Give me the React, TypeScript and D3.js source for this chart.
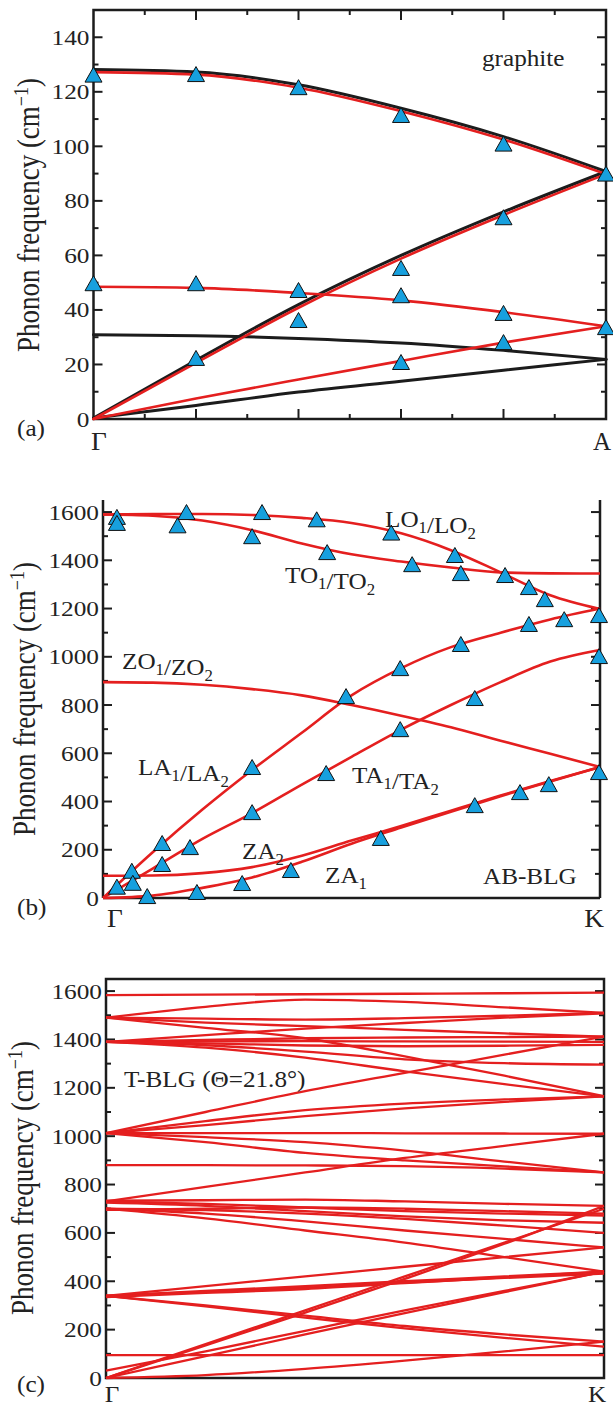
import React from 'react';
import * as d3 from 'd3';

const W = 613;
const H = 1409;

// ---------- panel (a) graphite, Γ -> A ----------
const aX = [0, 0.2, 0.4, 0.6, 0.8, 1.0];
const aBlackTop = [127.8, 126.9, 122.2, 113.6, 103.2, 90.4];
const aRedTop = [127.2, 126.3, 121.5, 112.9, 102.5, 89.8];
const aBlackLA = [0, 21.2, 41.6, 59.6, 75.6, 90.4];
const aRedLA = [0, 20.6, 40.8, 58.8, 74.8, 89.8];
const aRedLO = [48.5, 48.1, 46.2, 43.5, 39.2, 34];
const aBlackLO = [30.5, 30.2, 29.2, 27.5, 24.8, 21.5];
const aRedTA = [0, 7.5, 14.5, 21.3, 28, 34];
const aBlackTA = [0, 4.6, 9.5, 13.5, 17.5, 21.5];
const aPoints = [
  [0, 126.3], [0.2, 126.5], [0.4, 121.7], [0.6, 111.5], [0.8, 101], [1, 90],
  [0.2, 22.4], [0.4, 36.3], [0.6, 55.4], [0.8, 74],
  [0, 49.8], [0.2, 49.8], [0.4, 47.3], [0.6, 45.4], [0.8, 38.9], [1, 33.7],
  [0.6, 20.9], [0.8, 28.2],
];

// ---------- panel (b) AB-BLG, Γ -> K ----------
const bX = [0, 0.1, 0.2, 0.3, 0.4, 0.5, 0.6, 0.7, 0.8, 0.9, 1.0];
const bLO = [1590, 1592, 1592, 1588, 1576, 1555, 1512, 1442, 1350, 1255, 1198];
const bTO = [1590, 1585, 1565, 1525, 1470, 1425, 1395, 1370, 1350, 1346, 1345];
const bZO = [895, 893, 884, 866, 840, 800, 756, 708, 652, 598, 543];
const bLA = [0, 190, 367, 531, 685, 840, 953, 1040, 1100, 1155, 1200];
const bTA = [0, 122, 245, 352, 470, 585, 698, 800, 895, 980, 1028];
const bZA2 = [92, 93, 103, 128, 175, 238, 298, 362, 425, 485, 543];
const bZA1 = [0, 10, 42, 85, 150, 225, 292, 358, 422, 483, 543];
const bPoints = [
  [0.028, 1580], [0.028, 1555], [0.15, 1545], [0.168, 1600], [0.3, 1500], [0.32, 1600],
  [0.43, 1570], [0.451, 1434], [0.58, 1515], [0.622, 1384], [0.708, 1422], [0.72, 1347],
  [0.809, 1339], [0.857, 1289], [0.889, 1239], [0.928, 1156], [0.857, 1136], [0.998, 1173],
  [0.72, 1053], [0.598, 953], [0.489, 837], [0.998, 1003], [0.748, 829], [0.598, 700],
  [0.449, 518], [0.3, 543], [0.3, 356], [0.119, 228], [0.119, 141], [0.175, 211],
  [0.028, 47], [0.058, 113], [0.06, 63], [0.089, 8], [0.189, 25], [0.28, 62],
  [0.378, 116], [0.559, 249], [0.748, 385], [0.839, 439], [0.897, 472], [0.998, 522],
];

// ---------- panel (c) T-BLG 21.8 deg, Γ -> K ----------
const cX = [0, 0.2, 0.4, 0.6, 0.8, 1.0];
const tblgBands = [
  [1583, 1585, 1587, 1589, 1591, 1594],
  [1490, 1535, 1565, 1555, 1533, 1510],
  [1490, 1486, 1482, 1488, 1498, 1510],
  [1490, 1470, 1455, 1440, 1425, 1412],
  [1490, 1448, 1405, 1330, 1250, 1165],
  [1390, 1418, 1445, 1468, 1490, 1508],
  [1390, 1398, 1405, 1408, 1410, 1412],
  [1390, 1392, 1393, 1392, 1391, 1390],
  [1390, 1376, 1350, 1318, 1302, 1296],
  [1390, 1366, 1325, 1268, 1215, 1165],
  [1390, 1384, 1375, 1372, 1374, 1378],
  [1013, 1100, 1186, 1262, 1337, 1412],
  [1013, 1062, 1108, 1135, 1152, 1165],
  [1013, 1046, 1083, 1115, 1142, 1165],
  [1013, 1013, 1013, 1012, 1011, 1010],
  [1013, 996, 975, 940, 895, 850],
  [1013, 975, 931, 900, 875, 850],
  [880, 880, 879, 876, 866, 850],
  [730, 790, 850, 910, 960, 1010],
  [733, 735, 738, 730, 720, 712],
  [730, 720, 705, 690, 680, 672],
  [725, 712, 690, 668, 652, 642],
  [700, 694, 680, 658, 630, 600],
  [700, 680, 648, 610, 575, 540],
  [695, 700, 705, 700, 690, 680],
  [700, 660, 610, 560, 500, 440],
  [340, 360, 380, 400, 420, 440],
  [340, 356, 374, 394, 414, 432],
  [340, 380, 420, 460, 500, 540],
  [340, 300, 258, 215, 180, 150],
  [340, 296, 250, 205, 166, 130],
  [335, 352, 368, 392, 416, 440],
  [95, 95, 95, 95, 95, 95],
  [0, 140, 280, 420, 560, 700],
  [0, 135, 270, 410, 555, 712],
  [0, 90, 180, 268, 355, 440],
  [30, 110, 195, 280, 360, 440],
  [0, 12, 38, 72, 110, 150],
];

const aYTicks = d3.range(10, 150, 10);
const aXTicks = d3.range(1, 10).map((i) => i / 10);
const bcYTicks = d3.range(100, 1650, 100);

const RED = '#e41f1f';
const BLACK = '#1c1c1c';
const BLUE = '#17a0de';
const FONT = '"Liberation Serif", "Times New Roman", serif';

// scales
const xa = d3.scaleLinear().domain([0, 1]).range([93.5, 606]);
const ya = d3.scaleLinear().domain([0, 150]).range([419, 10]);
const xb = d3.scaleLinear().domain([0, 1]).range([103, 600]);
const yb = d3.scaleLinear().domain([0, 1650]).range([898, 500]);
const xc = d3.scaleLinear().domain([0, 1]).range([106, 604]);
const yc = d3.scaleLinear().domain([0, 1650]).range([1378, 979]);

const mkLine = (xs, xS, yS) =>
  d3
    .line()
    .x((_, i) => xS(xs[i]))
    .y((d) => yS(d))
    .curve(d3.curveMonotoneX);

const tri = 'M0,-7.5L8.5,7.5L-8.5,7.5Z';

const T = ({ x, y, size = 24, sx = 1.05, anchor = 'start', children }) => (
  <text
    transform={`translate(${x},${y}) scale(${sx},1)`}
    fontSize={size}
    textAnchor={anchor}
    fill="#222"
  >
    {children}
  </text>
);

const Sub = ({ c }) => (
  <>
    <tspan dy={6} fontSize={16}>
      {c}
    </tspan>
    <tspan dy={-6}>{''}</tspan>
  </>
);

const YTitle = ({ x, y }) => (
  <text
    transform={`translate(${x},${y}) scale(1.15,1) rotate(-90)`}
    fontSize={27}
    textAnchor="middle"
    fill="#222"
  >
    Phonon frequency (cm
    <tspan dy={-10} fontSize={18}>
      −1
    </tspan>
    <tspan dy={10}>)</tspan>
  </text>
);

const YTicks = ({ ticks, yS, left, right, major, labelStep }) => (
  <g stroke={BLACK} strokeWidth={2}>
    {ticks.map((t) => {
      const len = t % major === 0 ? 9 : 5;
      return (
        <g key={t}>
          <line x1={left} x2={left + len} y1={yS(t)} y2={yS(t)} />
          <line x1={right} x2={right - len} y1={yS(t)} y2={yS(t)} />
        </g>
      );
    })}
    {d3.range(0, ticks[ticks.length - 1] + 1, labelStep).map((t) => (
      <g key={'l' + t} stroke="none">
        <T x={left - 4} y={yS(t) + 7.5} size={22} sx={1.15} anchor="end">
          {t}
        </T>
      </g>
    ))}
  </g>
);

export default function App() {
  const la = (arr) => mkLine(aX, xa, ya)(arr);
  const lb = (arr) => mkLine(bX, xb, yb)(arr);
  const lc = (arr) => mkLine(cX, xc, yc)(arr);

  return (
    <svg
      width={W}
      height={H}
      style={{ position: 'absolute', left: 0, top: 0, background: '#fff' }}
      fontFamily={FONT}
    >
      {/* ---------------- panel (a) ---------------- */}
      <rect x={93.5} y={10} width={606 - 93.5} height={409} fill="none" stroke={BLACK} strokeWidth={2.5} />
      <YTicks ticks={aYTicks} yS={ya} left={93.5} right={606} major={20} labelStep={20} />
      <g stroke={BLACK} strokeWidth={2}>
        {aXTicks.map((t) => {
          const len = Math.round(t * 10) % 2 === 0 ? 10 : 5;
          return (
            <g key={t}>
              <line x1={xa(t)} x2={xa(t)} y1={10} y2={10 + len} />
              <line x1={xa(t)} x2={xa(t)} y1={419} y2={419 - len} />
            </g>
          );
        })}
      </g>
      <g fill="none" strokeLinecap="round">
        {[aBlackTop, aBlackLA, aBlackLO, aBlackTA].map((s, i) => (
          <path key={i} d={la(s)} stroke={BLACK} strokeWidth={3} transform="translate(0,-1)" />
        ))}
        {[aRedTop, aRedLA, aRedLO, aRedTA].map((s, i) => (
          <path key={i} d={la(s)} stroke={RED} strokeWidth={2.6} />
        ))}
      </g>
      {aPoints.map(([px, py], i) => (
        <path key={i} d={tri} transform={`translate(${xa(px)},${ya(py)})`} fill={BLUE} stroke="#111" strokeWidth={1} />
      ))}
      <YTitle x={39} y={215} />
      <T x={482} y={66}>graphite</T>
      <T x={17} y={436}>(a)</T>
      <T x={99} y={450} size={26} anchor="middle">Γ</T>
      <T x={602} y={450} size={25} sx={1} anchor="middle">A</T>

      {/* ---------------- panel (b) ---------------- */}
      <g stroke={BLACK} strokeWidth={2.5} fill="none">
        <line x1={103} x2={103} y1={500} y2={898} />
        <line x1={600} x2={600} y1={500} y2={898} />
        <line x1={103} x2={600} y1={898} y2={898} />
      </g>
      <YTicks ticks={bcYTicks} yS={yb} left={103} right={600} major={200} labelStep={200} />
      <g fill="none" stroke={RED} strokeWidth={2.6}>
        {[bLO, bTO, bZO, bLA, bTA, bZA2, bZA1].map((s, i) => (
          <path key={i} d={lb(s)} />
        ))}
      </g>
      {bPoints.map(([px, py], i) => (
        <path key={i} d={tri} transform={`translate(${xb(px)},${yb(py)})`} fill={BLUE} stroke="#111" strokeWidth={1} />
      ))}
      <YTitle x={35} y={699} />
      <T x={385} y={527}>
        LO<Sub c="1" />/LO<Sub c="2" />
      </T>
      <T x={285} y={583}>
        TO<Sub c="1" />/TO<Sub c="2" />
      </T>
      <T x={122} y={669}>
        ZO<Sub c="1" />/ZO<Sub c="2" />
      </T>
      <T x={138} y={775}>
        LA<Sub c="1" />/LA<Sub c="2" />
      </T>
      <T x={352} y={783}>
        TA<Sub c="1" />/TA<Sub c="2" />
      </T>
      <T x={242} y={859}>
        ZA<Sub c="2" />
      </T>
      <T x={325} y={883}>
        ZA<Sub c="1" />
      </T>
      <T x={483} y={884}>AB-BLG</T>
      <T x={17} y={915}>(b)</T>
      <T x={115} y={927} size={26} anchor="middle">Γ</T>
      <T x={594} y={927} size={26} anchor="middle">K</T>

      {/* ---------------- panel (c) ---------------- */}
      <rect x={106} y={979} width={604 - 106} height={1378 - 979} fill="none" stroke={BLACK} strokeWidth={2.5} />
      <YTicks ticks={bcYTicks} yS={yc} left={106} right={604} major={200} labelStep={200} />
      <g fill="none" stroke={RED} strokeWidth={2.3}>
        {tblgBands.map((s, i) => (
          <path key={i} d={lc(s)} />
        ))}
      </g>
      <YTitle x={33} y={1178} />
      <T x={124} y={1087}>T-BLG (Θ=21.8°)</T>
      <T x={17} y={1392}>(c)</T>
      <T x={112} y={1402} size={24} anchor="middle">Γ</T>
      <T x={597} y={1402} size={24} anchor="middle">K</T>
    </svg>
  );
}
